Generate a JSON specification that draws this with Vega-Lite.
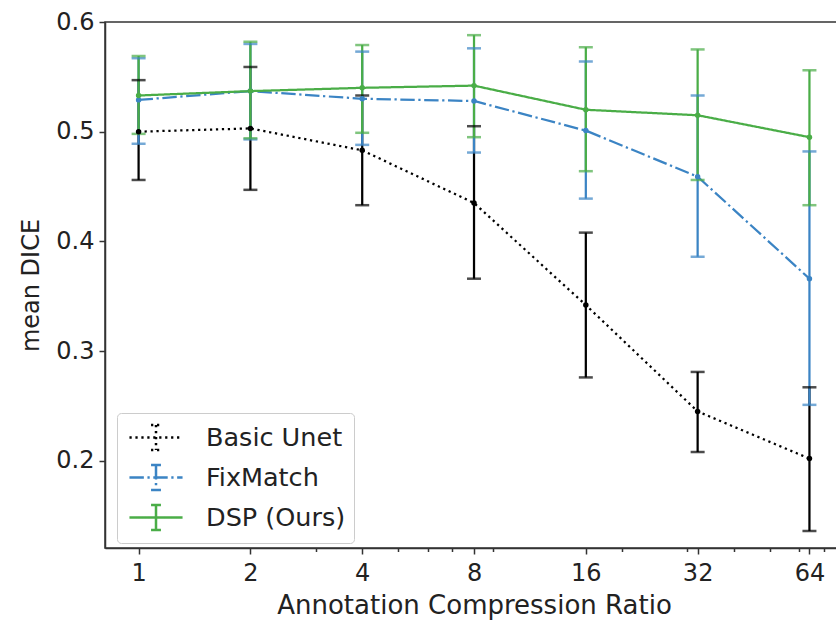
{
  "$schema": "https://vega.github.io/schema/vega-lite/v6.json",
  "autosize": "none",
  "width": 738,
  "height": 526,
  "padding": {"left": 105, "top": 22, "right": 0, "bottom": 73},
  "background": "white",
  "config": {
    "font": "DejaVu Sans",
    "view": {"stroke": "#333", "strokeWidth": 1.5},
    "axis": {
      "grid": false,
      "labelFont": "DejaVu Sans",
      "titleFont": "DejaVu Sans",
      "labelFontSize": 24,
      "titleFontSize": 24,
      "titleFontWeight": "normal",
      "labelColor": "#222",
      "titleColor": "#222",
      "domainColor": "#333",
      "domainWidth": 1.5,
      "tickColor": "#333",
      "tickWidth": 1.5
    },
    "legend": {
      "orient": "none",
      "legendX": 12,
      "legendY": 391,
      "padding": 8,
      "strokeColor": "#cccccc",
      "fillColor": "white",
      "cornerRadius": 4,
      "labelFont": "DejaVu Sans",
      "labelFontSize": 25.5,
      "labelColor": "#222",
      "labelOffset": 33.5,
      "symbolOffset": 14.5,
      "symbolType": "M-1.77,0H1.77M0,-0.83V0.83M-0.33,-0.83H0.33M-0.33,0.83H0.33",
      "symbolSize": 900,
      "symbolStrokeWidth": 2.5,
      "symbolOpacity": 1,
      "symbolFillColor": "transparent",
      "rowPadding": 5
    }
  },
  "data": {
    "values": [
      {"series": "Basic Unet", "ratio": 1, "mean": 0.500, "lo": 0.456, "hi": 0.547},
      {"series": "Basic Unet", "ratio": 2, "mean": 0.503, "lo": 0.447, "hi": 0.559},
      {"series": "Basic Unet", "ratio": 4, "mean": 0.483, "lo": 0.433, "hi": 0.533},
      {"series": "Basic Unet", "ratio": 8, "mean": 0.435, "lo": 0.366, "hi": 0.505},
      {"series": "Basic Unet", "ratio": 16, "mean": 0.342, "lo": 0.276, "hi": 0.408},
      {"series": "Basic Unet", "ratio": 32, "mean": 0.245, "lo": 0.208, "hi": 0.281},
      {"series": "Basic Unet", "ratio": 64, "mean": 0.202, "lo": 0.136, "hi": 0.267},
      {"series": "FixMatch", "ratio": 1, "mean": 0.529, "lo": 0.489, "hi": 0.567},
      {"series": "FixMatch", "ratio": 2, "mean": 0.537, "lo": 0.493, "hi": 0.580},
      {"series": "FixMatch", "ratio": 4, "mean": 0.530, "lo": 0.488, "hi": 0.573},
      {"series": "FixMatch", "ratio": 8, "mean": 0.528, "lo": 0.481, "hi": 0.576},
      {"series": "FixMatch", "ratio": 16, "mean": 0.501, "lo": 0.439, "hi": 0.564},
      {"series": "FixMatch", "ratio": 32, "mean": 0.459, "lo": 0.386, "hi": 0.533},
      {"series": "FixMatch", "ratio": 64, "mean": 0.366, "lo": 0.251, "hi": 0.482},
      {"series": "DSP (Ours)", "ratio": 1, "mean": 0.533, "lo": 0.498, "hi": 0.569},
      {"series": "DSP (Ours)", "ratio": 2, "mean": 0.537, "lo": 0.494, "hi": 0.582},
      {"series": "DSP (Ours)", "ratio": 4, "mean": 0.540, "lo": 0.499, "hi": 0.579},
      {"series": "DSP (Ours)", "ratio": 8, "mean": 0.542, "lo": 0.495, "hi": 0.588},
      {"series": "DSP (Ours)", "ratio": 16, "mean": 0.520, "lo": 0.464, "hi": 0.577},
      {"series": "DSP (Ours)", "ratio": 32, "mean": 0.515, "lo": 0.456, "hi": 0.575},
      {"series": "DSP (Ours)", "ratio": 64, "mean": 0.495, "lo": 0.433, "hi": 0.556}
    ]
  },
  "encoding": {
    "x": {
      "field": "ratio",
      "type": "quantitative",
      "scale": {"type": "log", "base": 2, "domain": [0.812, 78.8], "nice": false},
      "axis": {
        "title": "Annotation Compression Ratio",
        "titleFontSize": 26,
        "values": [1, 2, 3, 4, 5, 6, 7, 8, 9, 16, 20, 30, 32, 40, 50, 60, 64, 70],
        "labelExpr": "indexof([1,2,4,8,16,32,64], datum.value) >= 0 ? datum.label : ''",
        "format": "d",
        "labelOverlap": false,
        "labelFlush": false,
        "tickSize": {"condition": {"test": "indexof([1,2,4,8,16,32,64], datum.value) >= 0", "value": 6}, "value": 3.5},
        "labelPadding": 7,
        "titlePadding": 7
      }
    },
    "color": {
      "field": "series",
      "type": "nominal",
      "scale": {"domain": ["Basic Unet", "FixMatch", "DSP (Ours)"], "range": ["#000000", "#3b84c4", "#4aad47"]},
      "legend": {"title": null}
    }
  },
  "layer": [
    {
      "mark": {"type": "line", "strokeWidth": 2.25},
      "encoding": {
        "y": {
          "field": "mean",
          "type": "quantitative",
          "scale": {"domain": [0.1205, 0.6], "nice": false, "zero": false},
          "axis": {"title": "mean DICE", "values": [0.2, 0.3, 0.4, 0.5, 0.6], "format": ".1f", "tickSize": 6, "labelPadding": 5, "titlePadding": 12}
        },
        "strokeDash": {
          "field": "series",
          "type": "nominal",
          "scale": {"domain": ["Basic Unet", "FixMatch", "DSP (Ours)"], "range": [[2.25, 3.7], [14.4, 3.6, 2.25, 3.6], [1, 0]]},
          "legend": {"title": null}
        }
      }
    },
    {
      "mark": {"type": "rule", "strokeWidth": 2.25},
      "encoding": {"y": {"field": "lo", "type": "quantitative"}, "y2": {"field": "hi"}}
    },
    {
      "mark": {"type": "tick", "orient": "horizontal", "size": 14, "thickness": 2.5},
      "encoding": {"y": {"field": "lo", "type": "quantitative"}}
    },
    {
      "mark": {"type": "tick", "orient": "horizontal", "size": 14, "thickness": 2.5},
      "encoding": {"y": {"field": "hi", "type": "quantitative"}}
    },
    {
      "mark": {"type": "point", "filled": true, "size": 30, "opacity": 1},
      "encoding": {"y": {"field": "mean", "type": "quantitative"}}
    }
  ]
}
